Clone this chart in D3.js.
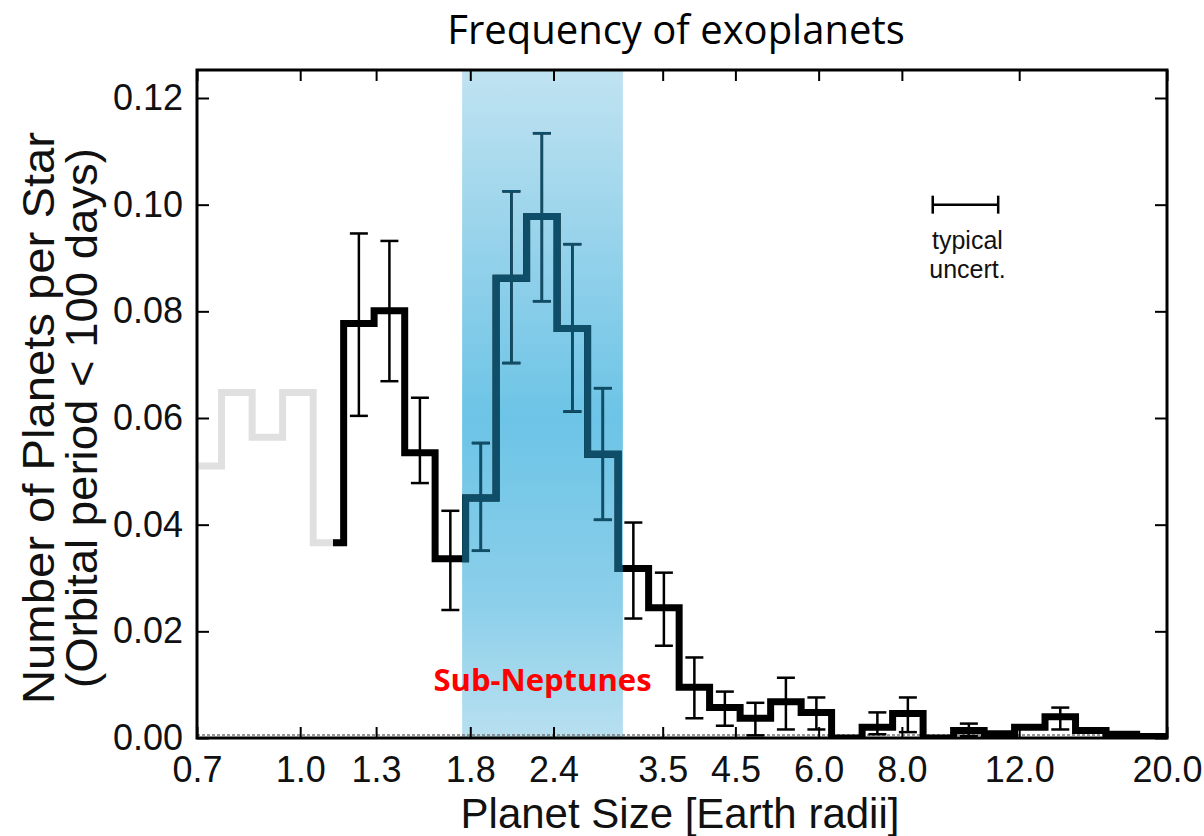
<!DOCTYPE html>
<html>
<head>
<meta charset="utf-8">
<script src="https://cdn.jsdelivr.net/npm/d3@7"></script>
<style>
  html, body { margin: 0; padding: 0; background: #fff; }
  svg { display: block; }
</style>
</head>
<body>
<div id="chart"></div>
<script>
// Bin edges (Earth radii), log spaced
const binEdges = [0.686, 0.762, 0.847, 0.941, 1.046, 1.162, 1.291, 1.435, 1.594, 1.771,
    1.968, 2.187, 2.430, 2.700, 3.000, 3.334, 3.705, 4.116, 4.574, 5.083, 5.648, 6.275,
    6.973, 7.748, 8.609, 9.566, 10.63, 11.81, 13.12, 14.58, 16.20, 18.01, 20.0];

// low completeness region (grey), first five bins
const greyValues = [0.0510, 0.0648, 0.0564, 0.0648, 0.0366];

// main histogram, bins 5..31 of binEdges (first one only partly drawn)
const blackStart = 1.12;
const blackValues = [0.0366, 0.0777, 0.0801, 0.0535, 0.0336, 0.0450, 0.0862, 0.0978,
    0.0768, 0.0532, 0.0318, 0.0244, 0.0095, 0.0057, 0.0037, 0.0068, 0.0048, 0.0,
    0.0020, 0.0046, 0.0, 0.0014, 0.0008, 0.0020, 0.0040, 0.0014, 0.0007, 0.0003];
const errLow = [null, 0.0604, 0.0669, 0.0478, 0.0240, 0.0351, 0.0703, 0.0819,
    0.0612, 0.0409, 0.0224, 0.0173, 0.0037, 0.0023, 0.0005, 0.0016, 0.0016, null,
    0.0007, 0.0011, null, 0.0004, null, null, 0.0016, null, null, null];
const errHigh = [null, 0.0946, 0.0932, 0.0638, 0.0426, 0.0553, 0.1025, 0.1134,
    0.0926, 0.0656, 0.0404, 0.0310, 0.0151, 0.0087, 0.0066, 0.0113, 0.0076, null,
    0.0048, 0.0076, null, 0.0027, null, null, 0.0057, null, null, null];

const xTicks = [0.7, 1.0, 1.3, 1.8, 2.4, 3.5, 4.5, 6.0, 8.0, 12.0, 20.0];
const yTicks = [0, 0.02, 0.04, 0.06, 0.08, 0.10, 0.12];

const subNeptuneRange = [1.75, 3.05];
const typicalUncert = [8.9, 11.16];
const typicalUncertY = 0.10;

const W = 1204, H = 836;
const margin = { top: 70, right: 37, bottom: 98, left: 197 };
const width = W - margin.left - margin.right;
const height = H - margin.top - margin.bottom;
const axisFont = '"Liberation Sans", Arial, Helvetica, sans-serif';

const svg = d3.select('#chart').append('svg')
    .attr('width', W)
    .attr('height', H);

const defs = svg.append('defs');
defs.append('clipPath').attr('id', 'plotClip')
    .append('rect').attr('width', width).attr('height', height);

// band is lighter near top and bottom, saturated in the middle
const grad = defs.append('linearGradient')
    .attr('id', 'shade')
    .attr('x1', 0).attr('y1', 0).attr('x2', 0).attr('y2', 1);
grad.append('stop').attr('offset', '0%').attr('stop-color', '#c0e3f1');
grad.append('stop').attr('offset', '25%').attr('stop-color', '#98d3eb');
grad.append('stop').attr('offset', '52%').attr('stop-color', '#6cc4e6');
grad.append('stop').attr('offset', '80%').attr('stop-color', '#8ccfea');
grad.append('stop').attr('offset', '100%').attr('stop-color', '#b8e0f0');

const g = svg.append('g')
    .attr('transform', `translate(${margin.left},${margin.top})`);

const x = d3.scaleLog()
    .domain([0.7, 20])
    .range([0, width]);

const y = d3.scaleLinear()
    .domain([0, 0.12525])
    .range([height, 0]);

// Sub-Neptune band
g.append('rect')
    .attr('x', x(subNeptuneRange[0]))
    .attr('y', 0)
    .attr('width', x(subNeptuneRange[1]) - x(subNeptuneRange[0]))
    .attr('height', height)
    .attr('fill', 'url(#shade)');

defs.append('clipPath').attr('id', 'shadeClip')
    .append('rect')
    .attr('x', x(subNeptuneRange[0]))
    .attr('y', 0)
    .attr('width', x(subNeptuneRange[1]) - x(subNeptuneRange[0]))
    .attr('height', height);

// dotted zero line
g.append('line')
    .attr('x1', 0).attr('x2', width)
    .attr('y1', y(0) - 3).attr('y2', y(0) - 3)
    .attr('stroke', '#777')
    .attr('stroke-width', 1.5)
    .attr('stroke-dasharray', '3,2');

const stepLine = d3.line()
    .x(d => x(d[0]))
    .y(d => y(d[1]))
    .curve(d3.curveStepAfter);

// grey part
const greyPts = greyValues.map((v, i) => [binEdges[i], v]);
greyPts.push([binEdges[greyValues.length], greyValues[greyValues.length - 1]]);

const plot = g.append('g').attr('clip-path', 'url(#plotClip)');

plot.append('path')
    .attr('d', stepLine(greyPts))
    .attr('fill', 'none')
    .attr('stroke', '#e0e0e0')
    .attr('stroke-width', 7);

// black part
const offset = greyValues.length - 1;
const blackPts = blackValues.map((v, i) => [i === 0 ? blackStart : binEdges[offset + i], v]);
blackPts.push([binEdges[offset + blackValues.length], blackValues[blackValues.length - 1]]);

const errData = blackValues.map((v, i) => ({
    xc: Math.sqrt(binEdges[offset + i] * binEdges[offset + i + 1]),
    lo: errLow[i],
    hi: errHigh[i]
})).filter(d => d.lo !== null);

function drawSeries(parent, color) {
    parent.append('path')
        .attr('d', stepLine(blackPts))
        .attr('fill', 'none')
        .attr('stroke', color)
        .attr('stroke-width', 7)
        .attr('stroke-linejoin', 'miter');

    const eb = parent.selectAll('.err')
        .data(errData)
        .enter()
        .append('g')
        .attr('class', 'err')
        .attr('stroke', color)
        .attr('stroke-width', 2.5);

    eb.append('line')
        .attr('x1', d => x(d.xc)).attr('x2', d => x(d.xc))
        .attr('y1', d => y(d.lo)).attr('y2', d => y(d.hi));
    eb.append('line')
        .attr('x1', d => x(d.xc) - 9).attr('x2', d => x(d.xc) + 9)
        .attr('y1', d => y(d.lo)).attr('y2', d => y(d.lo));
    eb.append('line')
        .attr('x1', d => x(d.xc) - 9).attr('x2', d => x(d.xc) + 9)
        .attr('y1', d => y(d.hi)).attr('y2', d => y(d.hi));
}

drawSeries(plot, '#000');
// inside the band the lines take a dark teal tint
drawSeries(g.append('g').attr('clip-path', 'url(#shadeClip)'), '#0f4e69');

// typical uncertainty marker
const tu = g.append('g').attr('stroke', '#000').attr('stroke-width', 2.5);
tu.append('line')
    .attr('x1', x(typicalUncert[0])).attr('x2', x(typicalUncert[1]))
    .attr('y1', y(typicalUncertY)).attr('y2', y(typicalUncertY));
typicalUncert.forEach(v => {
    tu.append('line')
        .attr('x1', x(v)).attr('x2', x(v))
        .attr('y1', y(typicalUncertY) - 9).attr('y2', y(typicalUncertY) + 9);
});
const tuMid = Math.sqrt(typicalUncert[0] * typicalUncert[1]);
['typical', 'uncert.'].forEach((t, i) => {
    g.append('text')
        .attr('x', x(tuMid) + 2).attr('y', y(typicalUncertY) + 44 + i * 29)
        .attr('text-anchor', 'middle')
        .attr('font-family', axisFont)
        .attr('font-size', '25px')
        .attr('fill', '#111')
        .text(t);
});

// Sub-Neptunes label
g.append('text')
    .attr('x', x(Math.sqrt(subNeptuneRange[0] * subNeptuneRange[1])))
    .attr('y', y(0) - 47)
    .attr('text-anchor', 'middle')
    .attr('font-family', '"Open Sans", sans-serif')
    .attr('font-weight', 'bold')
    .attr('font-size', '31px')
    .attr('fill', '#ff0000')
    .text('Sub-Neptunes');

// Axes
const xAxis = g.append('g')
    .attr('transform', `translate(0,${height})`)
    .call(d3.axisBottom(x)
        .tickValues(xTicks)
        .tickSize(-11)
        .tickPadding(18)
        .tickFormat(d3.format('.1f')));

const yAxis = g.append('g')
    .call(d3.axisLeft(y)
        .tickValues(yTicks)
        .tickSize(-12)
        .tickPadding(14)
        .tickFormat(d3.format('.2f')));

g.append('g')
    .call(d3.axisTop(x).tickValues(xTicks).tickSize(-11).tickFormat(''));
g.append('g')
    .attr('transform', `translate(${width},0)`)
    .call(d3.axisRight(y).tickValues(yTicks).tickSize(-12).tickFormat(''));

g.selectAll('.domain').remove();
g.selectAll('.tick line').attr('stroke', '#000').attr('stroke-width', 2);
[xAxis, yAxis].forEach(a => a.selectAll('text')
    .attr('font-family', axisFont)
    .attr('font-size', '36px')
    .attr('fill', '#111'));

// frame
g.append('rect')
    .attr('width', width)
    .attr('height', height)
    .attr('fill', 'none')
    .attr('stroke', '#000')
    .attr('stroke-width', 3);

// axis titles
svg.append('text')
    .attr('x', margin.left + width / 2 - 2)
    .attr('y', 828)
    .attr('text-anchor', 'middle')
    .attr('font-family', axisFont)
    .attr('font-size', '42px')
    .attr('fill', '#111')
    .text('Planet Size [Earth radii]');

const yMid = 418;
svg.append('text')
    .attr('transform', `translate(54,${yMid}) rotate(-90)`)
    .attr('text-anchor', 'middle')
    .attr('font-family', axisFont)
    .attr('font-size', '44px')
    .attr('textLength', 572)
    .attr('lengthAdjust', 'spacingAndGlyphs')
    .attr('fill', '#111')
    .text('Number of Planets per Star');
svg.append('text')
    .attr('transform', `translate(97,${yMid}) rotate(-90)`)
    .attr('text-anchor', 'middle')
    .attr('font-family', axisFont)
    .attr('font-size', '44px')
    .attr('textLength', 540)
    .attr('lengthAdjust', 'spacingAndGlyphs')
    .attr('fill', '#111')
    .text('(Orbital period < 100 days)');

// title
svg.append('text')
    .attr('x', 676)
    .attr('y', 44)
    .attr('text-anchor', 'middle')
    .attr('font-family', '"Open Sans", sans-serif')
    .attr('font-size', '40px')
    .attr('fill', '#000')
    .text('Frequency of exoplanets');
</script>
</body>
</html>
